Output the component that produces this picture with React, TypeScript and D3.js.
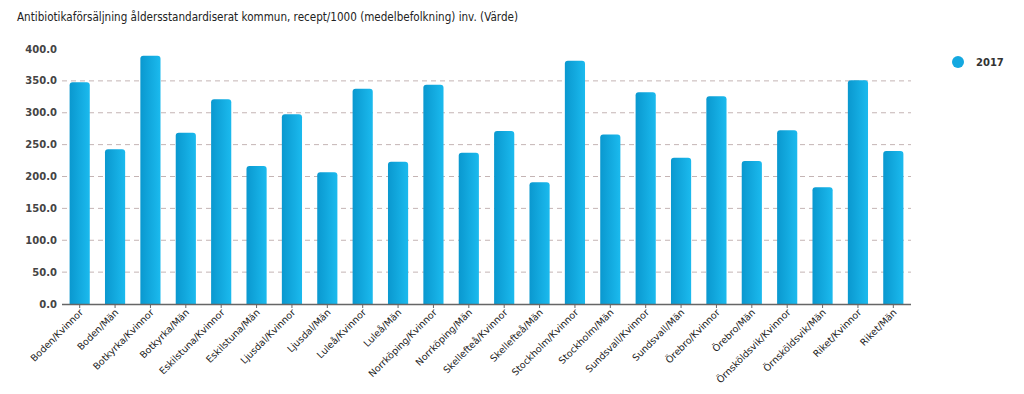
import React from "react";
import { scaleBand, scaleLinear } from "d3";

const categories = [
  "Boden/Kvinnor", "Boden/Män", "Botkyrka/Kvinnor", "Botkyrka/Män",
  "Eskilstuna/Kvinnor", "Eskilstuna/Män", "Ljusdal/Kvinnor", "Ljusdal/Män",
  "Luleå/Kvinnor", "Luleå/Män", "Norrköping/Kvinnor", "Norrköping/Män",
  "Skellefteå/Kvinnor", "Skellefteå/Män", "Stockholm/Kvinnor", "Stockholm/Män",
  "Sundsvall/Kvinnor", "Sundsvall/Män", "Örebro/Kvinnor", "Örebro/Män",
  "Örnsköldsvik/Kvinnor", "Örnsköldsvik/Män", "Riket/Kvinnor", "Riket/Män",
];
const values2017 = [
  347.8, 242.6, 389.5, 268.8, 321.0, 216.5, 297.5, 206.5, 337.8, 223.3, 344.0, 237.4,
  271.4, 190.8, 381.7, 266.0, 332.0, 229.5, 325.7, 224.3, 272.4, 183.0, 350.8, 240.0,
];
const yTicks = [0, 50, 100, 150, 200, 250, 300, 350, 400];
const gridTicks = [50, 100, 150, 200, 250, 300, 350];
const seriesName = "2017";
const title = "Antibiotikaförsäljning åldersstandardiserat kommun, recept/1000 (medelbefolkning) inv. (Värde)";

const W = 1024;
const H = 394;
const left = 62;
const right = 911;
const top = 49;
const bottom = 304;
const font = "Tahoma, 'DejaVu Sans', Verdana, sans-serif";

export default function App() {
  const x = scaleBand().domain(categories).range([left, right]).paddingInner(0.43).paddingOuter(0.215);
  const y = scaleLinear().domain([0, 400]).range([bottom, top]);
  const bw = x.bandwidth();
  const r = 3;

  // bar with rounded top corners
  const barPath = (xp: number, yp: number, w: number, h: number) =>
    `M${xp},${yp + h}V${yp + r}Q${xp},${yp} ${xp + r},${yp}H${xp + w - r}Q${xp + w},${yp} ${xp + w},${yp + r}V${yp + h}Z`;

  return (
    <svg width={W} height={H} style={{ position: "absolute", left: 0, top: 0, background: "#fff" }}>
      <defs>
        <linearGradient id="barGrad" x1="0" x2="1" y1="0" y2="0">
          <stop offset="0" stopColor="#0a98cf" />
          <stop offset="1" stopColor="#1bbaee" />
        </linearGradient>
      </defs>
      <text x={17} y={21} fontFamily={font} fontSize={12} fill="#222" textLength={501} lengthAdjust="spacingAndGlyphs">
        {title}
      </text>
      {gridTicks.map(t => (
        <line key={t} x1={left} x2={right} y1={y(t)} y2={y(t)} stroke="#c4b4b4" strokeWidth={1} strokeDasharray="5,4" />
      ))}
      {yTicks.map(t => (
        <text key={t} x={57} y={y(t) + 3.5} textAnchor="end" fontFamily={font} fontSize={10} fontWeight="bold" fill="#444">
          {t.toFixed(1)}
        </text>
      ))}
      {categories.map((c, i) => (
        <path key={c} d={barPath(x(c)!, y(values2017[i]), bw, bottom - y(values2017[i]))} fill="url(#barGrad)" />
      ))}
      <line x1={left} x2={right} y1={bottom + 0.5} y2={bottom + 0.5} stroke="#666" strokeWidth={1.5} />
      {categories.map(c => {
        const cx = x(c)! + bw / 2;
        return (
          <g key={c}>
            <line x1={cx} x2={cx} y1={bottom} y2={bottom + 4} stroke="#666" />
            <text
              transform={`translate(${cx + 4},${bottom + 9}) rotate(-45)`}
              textAnchor="end"
              fontFamily={font}
              fontSize={9.5}
              fill="#222"
            >
              {c}
            </text>
          </g>
        );
      })}
      <circle cx={958} cy={62} r={6} fill="#14a8e0" />
      <text x={976} y={66} fontFamily={font} fontSize={10} fontWeight="bold" fill="#333">
        {seriesName}
      </text>
    </svg>
  );
}
